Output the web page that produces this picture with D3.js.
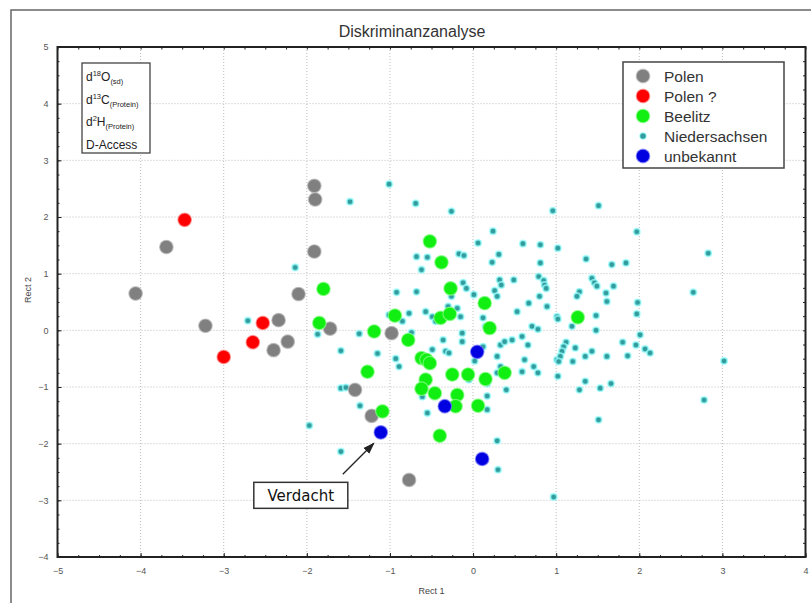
<!DOCTYPE html>
<html>
<head>
<meta charset="utf-8">
<script src="https://cdn.jsdelivr.net/npm/d3@7/dist/d3.min.js"></script>
<style>
body { margin: 0; background: #fff; }
svg text { font-family: "Liberation Sans", Arial, sans-serif; }
</style>
</head>
<body>
<div id="chart"></div>
<script>
'use strict';

// Series names, in legend order
const seriesNames = ["Polen", "Polen ?", "Beelitz", "Niedersachsen", "unbekannt"];

// Root 1 / Root 2 scores
const polen = [[-4.06, 0.65], [-3.69, 1.47], [-3.22, 0.08], [-2.34, 0.18], [-2.40, -0.35], [-2.23, -0.20],
    [-2.10, 0.64], [-1.91, 2.55], [-1.90, 2.31], [-1.91, 1.39], [-1.72, 0.03], [-0.98, -0.05],
    [-1.42, -1.05], [-1.22, -1.51], [-0.77, -2.64]];

const polenFrage = [[-3.47, 1.95], [-3.00, -0.47], [-2.65, -0.21], [-2.53, 0.13]];

const beelitz = [[-1.80, 0.73], [-1.85, 0.13], [-0.52, 1.57], [-0.38, 1.20], [-0.27, 0.74], [0.14, 0.48],
    [-0.94, 0.26], [-0.39, 0.22], [-0.28, 0.29], [0.20, 0.04], [-1.19, -0.02], [-0.78, -0.17],
    [-0.62, -0.49], [-0.56, -0.52], [-0.52, -0.58], [-1.27, -0.73], [-0.25, -0.78], [-0.06, -0.78],
    [0.15, -0.86], [0.38, -0.75], [-0.57, -0.87], [-0.62, -1.03], [-0.46, -1.11], [-0.19, -1.14],
    [0.06, -1.33], [-0.21, -1.34], [-1.09, -1.43], [-0.40, -1.86], [1.26, 0.23]];

const niedersachsen = [[-2.14, 1.11], [-2.71, 0.17], [-1.87, -0.07],
    [-1.01, 2.58], [-1.48, 2.27], [-0.69, 2.24], [-0.26, 2.10], [0.96, 2.11], [0.24, 1.75], [0.06, 1.54],
    [0.60, 1.53], [0.81, 1.51], [1.02, 1.45], [-0.68, 1.30], [-0.55, 1.29], [-0.17, 1.35], [-0.11, 1.32],
    [0.31, 1.34], [0.23, 1.20], [-0.62, 1.07], [0.81, 1.19],
    [-0.12, 0.84], [-0.08, 0.74], [0.32, 0.89], [0.34, 0.80], [0.26, 0.70], [0.49, 0.89], [0.79, 0.95],
    [0.85, 0.88], [0.86, 0.80], [0.88, 0.74], [-0.92, 0.67], [-0.68, 0.68], [0.01, 0.63], [0.29, 0.60],
    [-0.26, 0.60], [0.80, 0.60], [0.67, 0.48], [0.89, 0.42], [1.01, 0.24], [-0.30, 0.42], [-0.19, 0.39],
    [-0.57, 0.33], [-0.77, 0.30], [-1.01, 0.27], [-0.85, 0.16], [-0.49, 0.24], [-0.45, 0.16], [-0.15, 0.24],
    [0.12, 0.22], [0.15, 0.07], [0.53, 0.33], [0.71, 0.07], [0.78, 0.02],
    [-1.37, -0.06], [-0.74, -0.04], [-0.13, -0.05], [-0.13, -0.20], [-0.36, -0.17], [-1.59, -0.36],
    [-1.15, -0.41], [-0.49, -0.34], [-0.33, -0.37], [-0.29, -0.40], [0.12, -0.29], [0.02, -0.54],
    [0.33, -0.26], [0.38, -0.20], [0.47, -0.17], [0.59, -0.11], [0.29, -0.46], [0.33, -0.64], [0.29, -0.75],
    [0.39, -0.75], [0.66, -0.26], [0.62, -0.52], [0.59, -0.73], [0.73, -0.64], [0.78, -0.75], [1.01, -0.52],
    [1.02, -0.81], [-0.93, -0.50], [-0.89, -0.64], [0.17, -0.94], [-0.05, -0.87], [0.40, -1.05],
    [-1.59, -1.02], [-1.53, -1.01], [-1.36, -1.33], [-0.61, -1.17], [-0.55, -1.46], [0.17, -1.40],
    [0.17, -1.16], [-1.97, -1.68], [-1.59, -2.14], [0.29, -1.95], [0.30, -2.46], [0.97, -2.94],
    [1.51, 2.20], [1.97, 1.74], [2.83, 1.36], [2.65, 0.67], [3.02, -0.54], [2.78, -1.23], [1.51, -1.58],
    [1.36, 1.26], [1.67, 1.16], [1.84, 1.19], [1.43, 0.92], [1.46, 0.84], [1.49, 0.78], [1.69, 0.78],
    [1.28, 0.68], [1.25, 0.60], [1.60, 0.66], [1.61, 0.51], [1.98, 0.49], [1.97, 0.29], [1.02, 0.20],
    [1.48, 0.26], [1.19, 0.07], [1.48, 0.00], [1.12, -0.21], [1.09, -0.29], [1.07, -0.37], [1.05, -0.46],
    [1.03, -0.55], [1.23, -0.31], [1.20, -0.55], [1.35, -0.46], [1.43, -0.37], [1.61, -0.46], [1.80, -0.21],
    [1.96, -0.26], [2.01, -0.08], [2.07, -0.33], [2.13, -0.40], [1.86, -0.45], [1.35, -0.90], [1.28, -1.05],
    [1.53, -1.02], [1.66, -0.94]];

const unbekannt = [[0.05, -0.38], [-0.34, -1.34], [-1.11, -1.80], [0.11, -2.27]];

const xTicks = [-5, -4, -3, -2, -1, 0, 1, 2, 3, 4];
const yTicks = [-4, -3, -2, -1, 0, 1, 2, 3, 4, 5];

const colors = {
    "Polen": "#808080",
    "Polen ?": "#ff0000",
    "Beelitz": "#11ee11",
    "Niedersachsen": "#339c9c",
    "unbekannt": "#0000e0"
};

const halos = {
    "Polen": "#bbbbbb",
    "Polen ?": "#ff9090",
    "Beelitz": "#90ff90",
    "Niedersachsen": "#99ffff",
    "unbekannt": "#8080ff"
};

const seriesData = {
    "Polen": polen,
    "Polen ?": polenFrage,
    "Beelitz": beelitz,
    "Niedersachsen": niedersachsen,
    "unbekannt": unbekannt
};

const radius = (name) => name === "Niedersachsen" ? 3.2 : 6.8;

const svg = d3.select("#chart")
    .append("svg")
    .attr("width", 811)
    .attr("height", 603);

// outer frame
svg.append("rect")
    .attr("x", 11).attr("y", 10)
    .attr("width", 820).attr("height", 610)
    .attr("fill", "none")
    .attr("stroke", "#666")
    .attr("stroke-width", 1.5);

const x = d3.scaleLinear().domain([-5, 4]).range([57.5, 805.5]);
const y = d3.scaleLinear().domain([-4, 5]).range([557, 47]);

// title
svg.append("text")
    .attr("x", 412).attr("y", 37)
    .attr("text-anchor", "middle")
    .style("font-size", "16px")
    .style("fill", "#333")
    .text("Diskriminanzanalyse");

// grid lines
const grid = svg.append("g").attr("stroke", "#bdbdbd").attr("stroke-dasharray", "1,2");
grid.selectAll(".vgrid")
    .data(xTicks.slice(1, -1))
    .enter().append("line")
    .attr("x1", d => x(d)).attr("x2", d => x(d))
    .attr("y1", y(5)).attr("y2", y(-4));
grid.selectAll(".hgrid")
    .data(yTicks.slice(1, -1))
    .enter().append("line")
    .attr("x1", x(-5)).attr("x2", x(4))
    .attr("y1", d => y(d)).attr("y2", d => y(d));

// axes with ticks pointing inwards on all four sides
const minorX = d3.range(-5, 4.001, 0.25);
const minorY = d3.range(-4, 5.001, 0.25);

const styleAxis = (g) => {
    g.selectAll(".domain").remove();
    g.selectAll("line").attr("stroke", "#222");
    g.selectAll("text").style("font-size", "9px").style("fill", "#555");
};

svg.append("g").attr("transform", "translate(0," + y(-4) + ")")
    .call(d3.axisBottom(x).tickValues(xTicks).tickSize(-4).tickPadding(11).tickFormat(d3.format("d")))
    .call(styleAxis);
svg.append("g").attr("transform", "translate(0," + y(-4) + ")")
    .call(d3.axisBottom(x).tickValues(minorX).tickSize(-2).tickFormat(""))
    .call(styleAxis);
svg.append("g").attr("transform", "translate(0," + y(5) + ")")
    .call(d3.axisTop(x).tickValues(minorX).tickSize(-2.5).tickFormat(""))
    .call(styleAxis);
svg.append("g").attr("transform", "translate(" + x(-5) + ",0)")
    .call(d3.axisLeft(y).tickValues(yTicks).tickSize(-4).tickPadding(9).tickFormat(d3.format("d")))
    .call(styleAxis);
svg.append("g").attr("transform", "translate(" + x(-5) + ",0)")
    .call(d3.axisLeft(y).tickValues(minorY).tickSize(-2).tickFormat(""))
    .call(styleAxis);
svg.append("g").attr("transform", "translate(" + x(4) + ",0)")
    .call(d3.axisRight(y).tickValues(minorY).tickSize(-2.5).tickFormat(""))
    .call(styleAxis);

// plot frame
svg.append("rect")
    .attr("x", x(-5)).attr("y", y(5))
    .attr("width", x(4) - x(-5)).attr("height", y(-4) - y(5))
    .attr("fill", "none")
    .attr("stroke", "#222")
    .attr("stroke-width", 2);

// axis titles
svg.append("text")
    .attr("x", (x(-5) + x(4)) / 2).attr("y", 594)
    .attr("text-anchor", "middle")
    .style("font-size", "9px").style("fill", "#444")
    .text("Rect 1");
svg.append("text")
    .attr("transform", "translate(31," + 290 + ") rotate(-90)")
    .attr("text-anchor", "middle")
    .style("font-size", "9px").style("fill", "#444")
    .text("Rect 2");

// points, small cyan ones below the big markers
const drawOrder = ["Niedersachsen", "Polen", "Polen ?", "Beelitz", "unbekannt"];
drawOrder.forEach((name) => {
    svg.append("g")
        .selectAll("circle")
        .data(seriesData[name])
        .enter()
        .append("circle")
        .attr("cx", d => x(d[0]))
        .attr("cy", d => y(d[1]))
        .attr("r", radius(name))
        .attr("fill", colors[name])
        .attr("stroke", halos[name])
        .attr("stroke-opacity", 0.7)
        .attr("stroke-width", name === "Niedersachsen" ? 1.8 : 1.2);
});

// legend
const legend = svg.append("g");
legend.append("rect")
    .attr("x", 623).attr("y", 62)
    .attr("width", 161).attr("height", 106)
    .attr("fill", "#fff")
    .attr("stroke", "#444")
    .attr("stroke-width", 1.5);
seriesNames.forEach((name, i) => {
    const ly = 76 + i * 20;
    legend.append("circle")
        .attr("cx", 643).attr("cy", ly)
        .attr("r", radius(name))
        .attr("fill", colors[name])
        .attr("stroke", halos[name])
        .attr("stroke-opacity", 0.7)
        .attr("stroke-width", 1.2);
    legend.append("text")
        .attr("x", 664).attr("y", ly)
        .attr("dy", "0.36em")
        .style("font-size", "15.5px")
        .style("fill", "#333")
        .text(name);
});

// variable box top left
const varBox = svg.append("g");
varBox.append("rect")
    .attr("x", 82).attr("y", 63)
    .attr("width", 68).attr("height", 90)
    .attr("fill", "#fff")
    .attr("stroke", "#444")
    .attr("stroke-width", 1.3);
const variables = [["d", "18", "O", "(sd)"], ["d", "13", "C", "(Protein)"], ["d", "2", "H", "(Protein)"], ["D-Access", "", "", ""]];
variables.forEach((v, i) => {
    const t = varBox.append("text")
        .attr("x", 86).attr("y", 81 + i * 22.5)
        .style("font-size", "12px")
        .style("fill", "#222");
    t.append("tspan").text(v[0]);
    if (v[1]) {
        t.append("tspan").attr("dy", -5).style("font-size", "7.5px").text(v[1]);
        t.append("tspan").attr("dy", 5).text(v[2]);
        t.append("tspan").attr("dy", 3).style("font-size", "7.5px").text(v[3]);
    }
});

// annotation for the suspicious sample
const suspect = unbekannt[2];
const sx = x(suspect[0]), sy = y(suspect[1]);

svg.append("defs").append("marker")
    .attr("id", "arrowHead")
    .attr("viewBox", "0 0 10 10")
    .attr("refX", 9).attr("refY", 5)
    .attr("markerWidth", 9).attr("markerHeight", 9)
    .attr("orient", "auto")
    .append("path")
    .attr("d", "M0,1.5 L10,5 L0,8.5 z")
    .attr("fill", "#222");

svg.append("line")
    .attr("x1", sx - 38).attr("y1", sy + 42)
    .attr("x2", sx - 7).attr("y2", sy + 11)
    .attr("stroke", "#222")
    .attr("stroke-width", 1.3)
    .attr("marker-end", "url(#arrowHead)");

svg.append("rect")
    .attr("x", sx - 127).attr("y", sy + 50)
    .attr("width", 94).attr("height", 26)
    .attr("fill", "#fff")
    .attr("stroke", "#333")
    .attr("stroke-width", 1.5);
svg.append("text")
    .attr("x", sx - 80).attr("y", sy + 63)
    .attr("dy", "0.36em")
    .attr("text-anchor", "middle")
    .style("font-family", "'DejaVu Sans', sans-serif")
    .style("font-size", "15px")
    .style("fill", "#111")
    .text("Verdacht");
</script>
</body>
</html>
